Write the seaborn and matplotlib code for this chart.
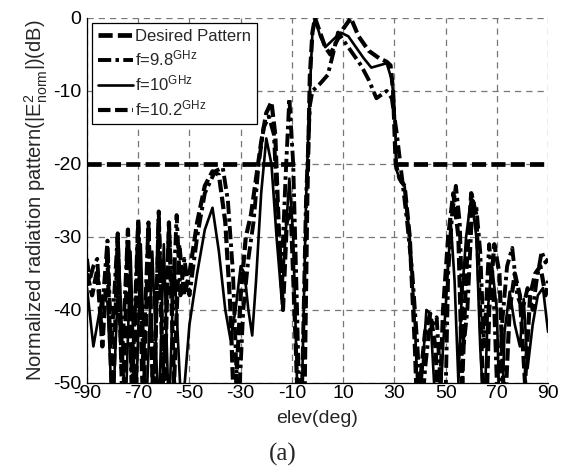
import numpy as np
import pandas as pd
import matplotlib
matplotlib.use("Agg")
import matplotlib.pyplot as plt
import seaborn as sns

# ---------------- data ----------------
# desired (mask) pattern: -20 dB side-lobe level outside the shaped beam
desired_elev = [-90, -8, 30, 90]
desired_db = [-20, -20, -20, -20]
desired_seg = [0, 0, 1, 1]

f98_elev = [-90, -89, -87.5, -86, -84.5, -82, -80.5, -78, -76.5, -74, -72.5, -70, -68, -66, -64, -62, -60, -58,
            -56.5, -55, -53.5, -52, -50, -47, -44, -40, -37, -35, -33, -31, -29, -27, -25, -23, -21, -19, -17,
            -15.5, -14, -12.5, -11, -9.5, -8, -7, -6, -4.5, -3, -2, 1, 4, 6, 8, 10, 13, 17, 20, 23, 25, 27, 29,
            31, 33, 35, 37, 39, 40.5, 42, 43.5, 45, 46.5, 48, 49.5, 51, 52.5, 54, 55.5, 57, 58.5, 60.5, 62,
            63.5, 65, 67, 69, 70.5, 72, 74, 76, 78, 80, 82, 84, 85.5, 87.5, 89, 90]
f98_db = [-33, -36, -34, -33, -42, -30.5, -45, -29.5, -48, -29, -52, -27.5, -47, -28, -55, -26.5, -50, -28.5,
          -40, -27, -38, -33, -38, -30, -24, -21, -20.5, -25, -35, -55, -40, -33, -28, -20, -15, -13.5, -16,
          -28, -35, -22, -11, -20, -40, -55, -50, -25, -12, -10, -9, -7.8, -5, -2, -3, -4.5, -6.5, -8.5, -11,
          -10.5, -10, -11, -16, -22, -28, -35, -45, -55, -48, -43, -42, -41, -50, -60, -35, -27, -23, -28,
          -45, -40, -25, -26, -32, -45, -31, -40, -55, -42, -34, -31.5, -38, -40, -37, -40, -36, -32, -33.5,
          -33]

f10_elev = [-90, -87.5, -84, -82, -80, -77.5, -75, -73, -71, -69, -67, -64.5, -62, -60, -58, -56, -53, -50,
            -47, -44, -41, -38.5, -36, -34, -32, -30, -28.5, -27, -25.5, -24, -22, -20, -18, -16, -14, -12.5,
            -11, -9.5, -8, -7, -6, -4.5, -3, -2, -1, 1, 3, 6, 9, 12, 15, 18, 21, 24, 27, 29, 30, 30.5, 31,
            32.5, 34, 36, 38, 39.5, 41, 42.5, 44, 45.5, 47, 49, 50.5, 52, 53.5, 55, 56, 58, 60, 62, 63.5, 65,
            66.5, 68, 70, 71.5, 73, 75, 77, 79, 80.5, 82, 84, 86, 88, 90]
f10_db = [-37, -45, -38, -39, -55, -33, -55, -32, -55, -31, -55, -32, -55, -31, -55, -33, -55, -42, -35,
          -29, -26, -32, -40, -44, -40, -34, -35, -40, -43.5, -36, -24, -16.5, -20, -30, -38.5, -30, -22,
          -30, -50, -60, -50, -25, -10, -2, 0, -2.5, -4, -3, -2, -2.5, -4, -5.5, -6.8, -6.5, -6.2, -8.5, -12,
          -17, -21, -22.5, -23, -30, -42, -55, -48, -40, -40.5, -50, -60, -45, -37, -28, -36, -50, -40, -30,
          -24.5, -30, -45, -55, -40, -33.5, -40, -60, -43, -37.5, -42, -45, -38.5, -48, -42, -38, -37, -43]

f102_elev = [-90, -88, -86, -84, -82, -80, -78, -76, -74, -72, -70, -68, -66, -64, -62, -60, -58, -56, -54,
             -52, -50, -47, -44, -41, -38.5, -36, -34, -32.5, -30, -28, -26, -24, -22, -20, -18, -16.5, -15,
             -13.5, -12, -10.5, -9, -7.5, -5, -4, -3, -2, -1, 1, 3, 5, 7, 10, 13, 16, 20, 24, 27, 28.5, 29.5,
             30.5, 32, 34, 36, 38, 39, 40, 42, 44, 46, 47.5, 49, 51, 53, 55, 56.5, 58, 60, 62, 64, 65.5, 67,
             69, 71, 73, 75, 77, 79, 81, 83, 85, 87, 89, 90]
f102_db = [-35, -38, -34.5, -45, -33, -55, -30, -55, -29, -55, -28, -55, -28.5, -55, -27.5, -55, -28, -50,
           -31, -38, -35, -28, -23, -21, -21.5, -28, -40, -55, -38, -30, -27, -22, -17, -13, -11.5, -16, -30,
           -40, -28, -26, -40, -55, -50, -25, -8, -2, 0, -2, -4, -5, -3.5, -1.5, 0, -2.5, -4.5, -5.5, -6,
           -6.5, -10, -20, -22, -23, -30, -45, -55, -50, -43, -40.5, -45, -55, -40, -30, -24, -30, -50, -35,
           -24, -27, -45, -60, -40, -31, -35, -55, -40, -35, -38, -50, -38, -35, -34, -38, -36]

legend_labels = ["Desired Pattern", r"f=9.8$^{\mathrm{GHz}}$", r"f=10$^{\mathrm{GHz}}$", r"f=10.2$^{\mathrm{GHz}}$"]
x_ticks = [-90, -70, -50, -30, -10, 10, 30, 50, 70, 90]
y_ticks = [0, -10, -20, -30, -40, -50]

# ---------------- style ----------------
sns.set_style("white")
plt.rcParams["font.family"] = ["Liberation Sans", "DejaVu Sans"]
plt.rcParams["axes.unicode_minus"] = False
plt.rcParams["mathtext.fontset"] = "custom"
plt.rcParams["mathtext.rm"] = "Liberation Sans"
plt.rcParams["mathtext.it"] = "Liberation Sans:italic"
plt.rcParams["mathtext.bf"] = "Liberation Sans:bold"

fig = plt.figure(figsize=(5.63, 4.67), dpi=100)
ax = fig.add_axes([0.1545, 0.18, 0.819, 0.7815])

styles = [
    dict(lw=3.4, dashes=(3.0, 1.1)),
    dict(lw=2.8, dashes=(3.4, 1.1, 0.9, 1.1)),
    dict(lw=1.9, linestyle="-"),
    dict(lw=3.0, dashes=(3.0, 1.1)),
]

handles = []
df_des = pd.DataFrame({"elev": desired_elev, "db": desired_db, "seg": desired_seg})
sns.lineplot(data=df_des, x="elev", y="db", units="seg", estimator=None, sort=False,
             ax=ax, color="black", legend=False, **styles[0])
handles.append(ax.get_lines()[-1])

for (xs, ys), st in zip([(f98_elev, f98_db), (f10_elev, f10_db), (f102_elev, f102_db)], styles[1:]):
    df = pd.DataFrame({"elev": xs, "db": ys})
    sns.lineplot(data=df, x="elev", y="db", ax=ax, color="black", estimator=None,
                 sort=False, legend=False, **st)
    handles.append(ax.get_lines()[-1])

ax.set_xlim(-90, 90)
ax.set_ylim(-50, 0)
ax.set_xticks(x_ticks)
ax.set_yticks(y_ticks)
ax.tick_params(direction="in", length=5, width=0.8, labelsize=14, colors="black", pad=4)
ax.tick_params(axis="x", pad=1.5)
ax.grid(True, color="#777777", linestyle=(0, (5, 4)), linewidth=0.9)
for s in ["top", "right"]:
    ax.spines[s].set_visible(False)
for s in ["left", "bottom"]:
    ax.spines[s].set_color("black")
    ax.spines[s].set_linewidth(0.9)

ax.set_xlabel("elev(deg)", fontsize=14, labelpad=6)
ax.set_ylabel(r"Normalized radiation pattern(|E$_{\mathrm{norm}}^{2}$|)(dB)", fontsize=14.5, labelpad=2)

leg = ax.legend(handles, legend_labels, loc="upper left", fontsize=12, handlelength=2.1,
                handletextpad=0.15, frameon=True, fancybox=False, borderaxespad=0.3,
                labelspacing=0.3, borderpad=0.35)
leg.get_frame().set_edgecolor("black")
leg.get_frame().set_linewidth(0.9)
leg.get_frame().set_alpha(1)

fig.text(0.503, 0.026, "(a)", ha="center", va="center", fontsize=18,
         family=["Liberation Serif", "DejaVu Serif"])

fig.savefig("out.png", dpi=100)
